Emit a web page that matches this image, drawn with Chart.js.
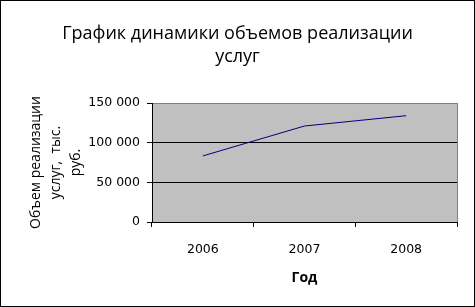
<!DOCTYPE html>
<html>
<head>
<meta charset="utf-8">
<script src="https://cdn.jsdelivr.net/npm/chart.js@4.4.1/dist/chart.umd.min.js"></script>
<style>
  html, body { margin: 0; padding: 0; background: #fff; }
  canvas { display: block; }
</style>
</head>
<body>
<canvas id="chart" width="475" height="307"></canvas>
<script>
var years = ['2006', '2007', '2008'];
var volumes = [83300, 121000, 134000];
var yTicks = [0, 50000, 100000, 150000];
var chartTitle = ['График динамики объемов реализации', 'услуг'];
var yTitle = ['Объем реализации', 'услуг,  тыс.', 'руб.'];
var xTitle = 'Год';

function fmt(v) {
    return String(v).replace(/\B(?=(\d{3})+(?!\d))/g, ' ');
}

// grey plot area + outer frame
var frame = {
    id: 'frame',
    beforeDraw: function (chart) {
        var ctx = chart.ctx, a = chart.chartArea;
        ctx.save();
        ctx.fillStyle = '#fff';
        ctx.fillRect(0, 0, chart.width, chart.height);
        ctx.fillStyle = '#c0c0c0';
        ctx.fillRect(a.left, a.top, a.right - a.left, a.bottom - a.top);
        ctx.strokeStyle = '#808080';
        ctx.lineWidth = 1;
        ctx.strokeRect(Math.round(a.left) + 0.5, Math.round(a.top) + 0.5, Math.round(a.right - a.left), Math.round(a.bottom - a.top));
        ctx.restore();
    },
    afterDraw: function (chart) {
        var ctx = chart.ctx;
        ctx.save();
        ctx.strokeStyle = '#000';
        ctx.lineWidth = 1;
        ctx.strokeRect(0.5, 0.5, chart.width - 1, chart.height - 1);
        ctx.restore();
    }
};

new Chart(document.getElementById('chart'), {
    type: 'line',
    data: {
        labels: years,
        datasets: [{
            data: volumes,
            borderColor: '#000080',
            borderWidth: 1,
            pointRadius: 0,
            tension: 0,
            fill: false
        }]
    },
    options: {
        responsive: false,
        animation: false,
        devicePixelRatio: 1,
        layout: { padding: { left: 18, right: 18, top: 0, bottom: 0 } },
        plugins: {
            legend: { display: false },
            tooltip: { enabled: false },
            title: {
                display: true,
                text: chartTitle,
                color: '#000',
                font: { family: 'Open Sans', size: 18, weight: 'normal', lineHeight: '23.5px' },
                padding: { top: 22, bottom: 34 }
            }
        },
        scales: {
            x: {
                offset: true,
                grid: {
                    offset: true,
                    drawOnChartArea: false,
                    tickColor: '#000',
                    tickLength: 5
                },
                border: { color: '#000' },
                ticks: {
                    color: '#000',
                    font: { family: 'DejaVu Sans', size: 12.5 },
                    padding: 15,
                    maxRotation: 0
                },
                title: {
                    display: true,
                    text: xTitle,
                    color: '#000',
                    font: { family: 'Open Sans', size: 14, weight: 'bold', lineHeight: '18px' },
                    padding: { bottom: 20 }
                },
                afterFit: function (s) { s.height = 85; }
            },
            y: {
                min: 0,
                max: 150000,
                afterBuildTicks: function (s) { s.ticks = yTicks.map(function (v) { return { value: v }; }); },
                grid: {
                    color: function (c) { return (c.tick && c.tick.value > 0 && c.tick.value < 150000) ? '#000' : 'rgba(0,0,0,0)'; },
                    tickColor: '#000',
                    tickLength: 5
                },
                border: { color: '#000' },
                ticks: {
                    color: '#000',
                    font: { family: 'DejaVu Sans', size: 12.5 },
                    padding: 7,
                    callback: function (v) { return fmt(v); }
                },
                title: {
                    display: true,
                    text: yTitle,
                    color: '#000',
                    font: { family: 'Open Sans', size: 14, lineHeight: '20px' },
                    padding: { top: 8 }
                },
                afterFit: function (s) { s.width = 134; }
            }
        }
    },
    plugins: [frame]
});
</script>
</body>
</html>
